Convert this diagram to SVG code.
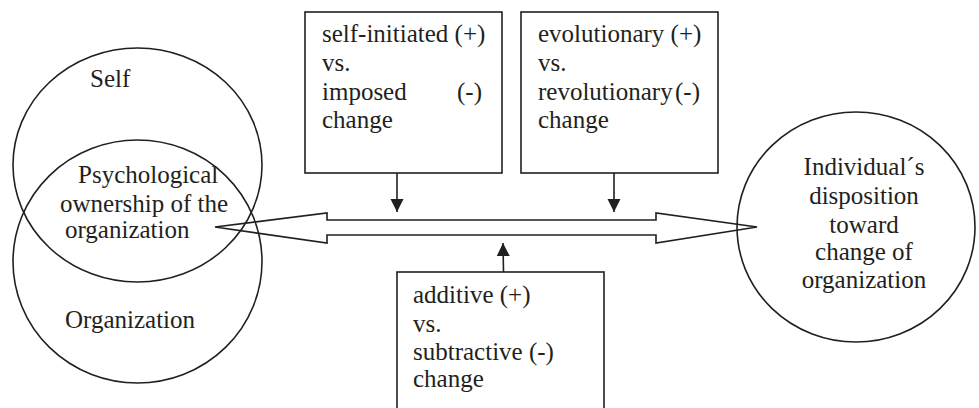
<svg xmlns="http://www.w3.org/2000/svg" width="979" height="408" viewBox="0 0 979 408">
  <style>
    .shape { fill: none; stroke: #231f20; stroke-width: 1.6; }
    .box { fill: #ffffff; stroke: #231f20; stroke-width: 1.6; }
    .link { fill: none; stroke: #231f20; stroke-width: 1.6; }
    text { font-family: "Liberation Serif", "Times New Roman", serif; font-size: 25px; fill: #231f20; }
    .mid { text-anchor: middle; }
    .end { text-anchor: end; }
  </style>
  <defs>
    <marker id="head" markerUnits="userSpaceOnUse" markerWidth="14" markerHeight="14" viewBox="0 0 14 14" refX="13" refY="6.5" orient="auto">
      <path d="M0,0 L13,6.5 L0,13 z" fill="#231f20"/>
    </marker>
  </defs>
  <rect width="979" height="408" fill="#ffffff"/>

  <!-- Venn pair: self and organization -->
  <g id="self">
    <ellipse class="shape" cx="137.5" cy="165" rx="124.5" ry="117"/>
    <text x="90" y="87">Self</text>
  </g>
  <g id="organization">
    <ellipse class="shape" cx="137.5" cy="261.5" rx="124.5" ry="121.5"/>
    <text x="65" y="328">Organization</text>
  </g>
  <g id="ownership">
    <text x="78" y="183">Psychological</text>
    <text x="60" y="212">ownership of the</text>
    <text x="65" y="238">organization</text>
  </g>

  <!-- outcome -->
  <g id="disposition">
    <ellipse class="shape" cx="856" cy="227" rx="119" ry="115"/>
    <text class="mid" x="864" y="175">Individual´s</text>
    <text class="mid" x="864" y="204">disposition</text>
    <text class="mid" x="864" y="233">toward</text>
    <text class="mid" x="864" y="260">change of</text>
    <text class="mid" x="864" y="288">organization</text>
  </g>

  <!-- moderators -->
  <g id="initiation">
    <rect class="box" x="305" y="12" width="197" height="161"/>
    <text x="322" y="42">self-initiated (+)</text>
    <text x="322" y="71">vs.</text>
    <text x="322" y="100">imposed</text>
    <text class="end" x="482" y="100">(-)</text>
    <text x="322" y="128">change</text>
  </g>
  <g id="pace">
    <rect class="box" x="521" y="12" width="197" height="161"/>
    <text x="538" y="42">evolutionary (+)</text>
    <text x="538" y="71">vs.</text>
    <text x="538" y="100">revolutionary</text>
    <text class="end" x="700" y="100">(-)</text>
    <text x="538" y="128">change</text>
  </g>
  <g id="content">
    <rect class="box" x="397" y="272" width="207" height="150"/>
    <text x="413" y="303">additive (+)</text>
    <text x="413" y="332">vs.</text>
    <text x="413" y="360">subtractive (-)</text>
    <text x="413" y="387">change</text>
  </g>

  <!-- connectors -->
  <g id="connectors">
    <path class="link" d="M215,227 L327,213 L327,220 L656,220 L656,213 L757,227 L656,243 L656,235 L327,235 L327,243 Z"/>
    <line class="link" x1="397" y1="173" x2="397" y2="212" marker-end="url(#head)"/>
    <line class="link" x1="614" y1="173" x2="614" y2="212" marker-end="url(#head)"/>
    <line class="link" x1="503.5" y1="272" x2="503" y2="243" marker-end="url(#head)"/>
  </g>
</svg>
